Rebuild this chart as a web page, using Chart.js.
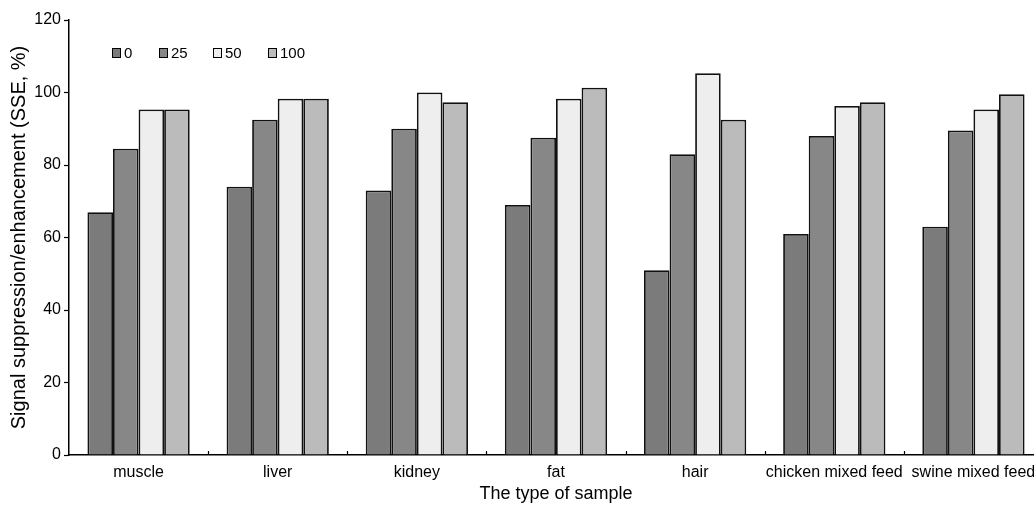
<!DOCTYPE html>
<html>
<head>
<meta charset="utf-8">
<script src="https://cdn.jsdelivr.net/npm/chart.js@4/dist/chart.umd.min.js"></script>
<style>
  html, body { margin: 0; padding: 0; background: #fff; overflow: hidden; width: 1034px; height: 505px; }
  canvas { display: block; }
</style>
</head>
<body>
<canvas id="c" width="1045" height="505"></canvas>
<script>
const categories = ["muscle", "liver", "kidney", "fat", "hair", "chicken mixed feed", "swine mixed feed"];
const seriesLabels = ["0", "25", "50", "100"];
const s0   = [67, 74, 73, 69, 51, 61, 63];
const s25  = [84.5, 92.5, 90, 87.5, 83, 88, 89.5];
const s50  = [95.3, 98.3, 100, 98.3, 105.3, 96.3, 95.3];
const s100 = [95.3, 98.3, 97.3, 101.3, 92.5, 97.3, 99.5];
const yTicks = [0, 20, 40, 60, 80, 100, 120];
const colors = ["#7b7b7b", "#878787", "#eeeeee", "#bbbbbb"];

const FONT = "Arial, 'Liberation Sans', sans-serif";

const boundaryTicks = {
  id: 'boundaryTicks',
  afterDatasetsDraw(chart) {
    const x = chart.scales.x, ctx = chart.ctx;
    const y0 = chart.chartArea.bottom;
    ctx.save();
    ctx.strokeStyle = '#000';
    ctx.lineWidth = 1.2;
    for (let i = 1; i < categories.length; i++) {
      const px = Math.round((x.getPixelForValue(i - 1) + x.getPixelForValue(i)) / 2) + 0.5;
      ctx.beginPath();
      ctx.moveTo(px, y0);
      ctx.lineTo(px, y0 - 4);
      ctx.stroke();
    }
    ctx.restore();
  }
};

const customLegend = {
  id: 'customLegend',
  afterDraw(chart) {
    const ctx = chart.ctx;
    const positions = [112, 159, 213, 268];
    const yc = 53;
    ctx.save();
    ctx.font = "15px " + FONT;
    ctx.textBaseline = 'middle';
    chart.data.datasets.forEach((ds, i) => {
      const bx = positions[i];
      ctx.fillStyle = ds.backgroundColor;
      ctx.fillRect(bx, yc - 5, 9, 10);
      ctx.strokeStyle = '#000';
      ctx.lineWidth = 1;
      ctx.strokeRect(bx + 0.5, yc - 5 + 0.5, 8, 9);
      ctx.fillStyle = '#000';
      ctx.fillText(ds.label, bx + 12, yc + 1);
    });
    ctx.restore();
  }
};

new Chart(document.getElementById('c'), {
  type: 'bar',
  data: {
    labels: categories,
    datasets: [s0, s25, s50, s100].map((d, i) => ({
      label: seriesLabels[i],
      data: d,
      backgroundColor: colors[i],
      borderColor: '#111',
      borderWidth: 1.8,
      categoryPercentage: 0.735,
      barPercentage: 1.0
    }))
  },
  options: {
    responsive: false,
    animation: false,
    layout: { padding: { top: 20, right: 2, left: 0, bottom: 0 } },
    plugins: { legend: { display: false }, tooltip: { enabled: false } },
    scales: {
      x: {
        afterFit(s) { s.height = 50; },
        grid: { display: false, drawTicks: false },
        border: { display: true, color: '#000', width: 1.5 },
        ticks: { color: '#000', font: { family: FONT, size: 16 }, padding: 8, autoSkip: false, maxRotation: 0 },
        title: { display: true, text: 'The type of sample', color: '#000', font: { family: FONT, size: 18 }, padding: { top: 0, bottom: 0 } }
      },
      y: {
        min: 0, max: 120,
        afterFit(s) { s.width = 69; },
        afterBuildTicks(s) { s.ticks = yTicks.map(v => ({ value: v })); },
        grid: { drawOnChartArea: false, drawTicks: true, tickLength: 5, color: '#000', tickColor: '#000', tickWidth: 1.2 },
        border: { display: true, color: '#000', width: 1.5 },
        ticks: { color: '#000', font: { family: FONT, size: 16 }, padding: 3 },
        title: { display: true, text: 'Signal suppression/enhancement (SSE, %)', color: '#000', font: { family: FONT, size: 20 }, padding: { top: 7, bottom: 0 } }
      }
    }
  },
  plugins: [boundaryTicks, customLegend]
});
</script>
</body>
</html>
